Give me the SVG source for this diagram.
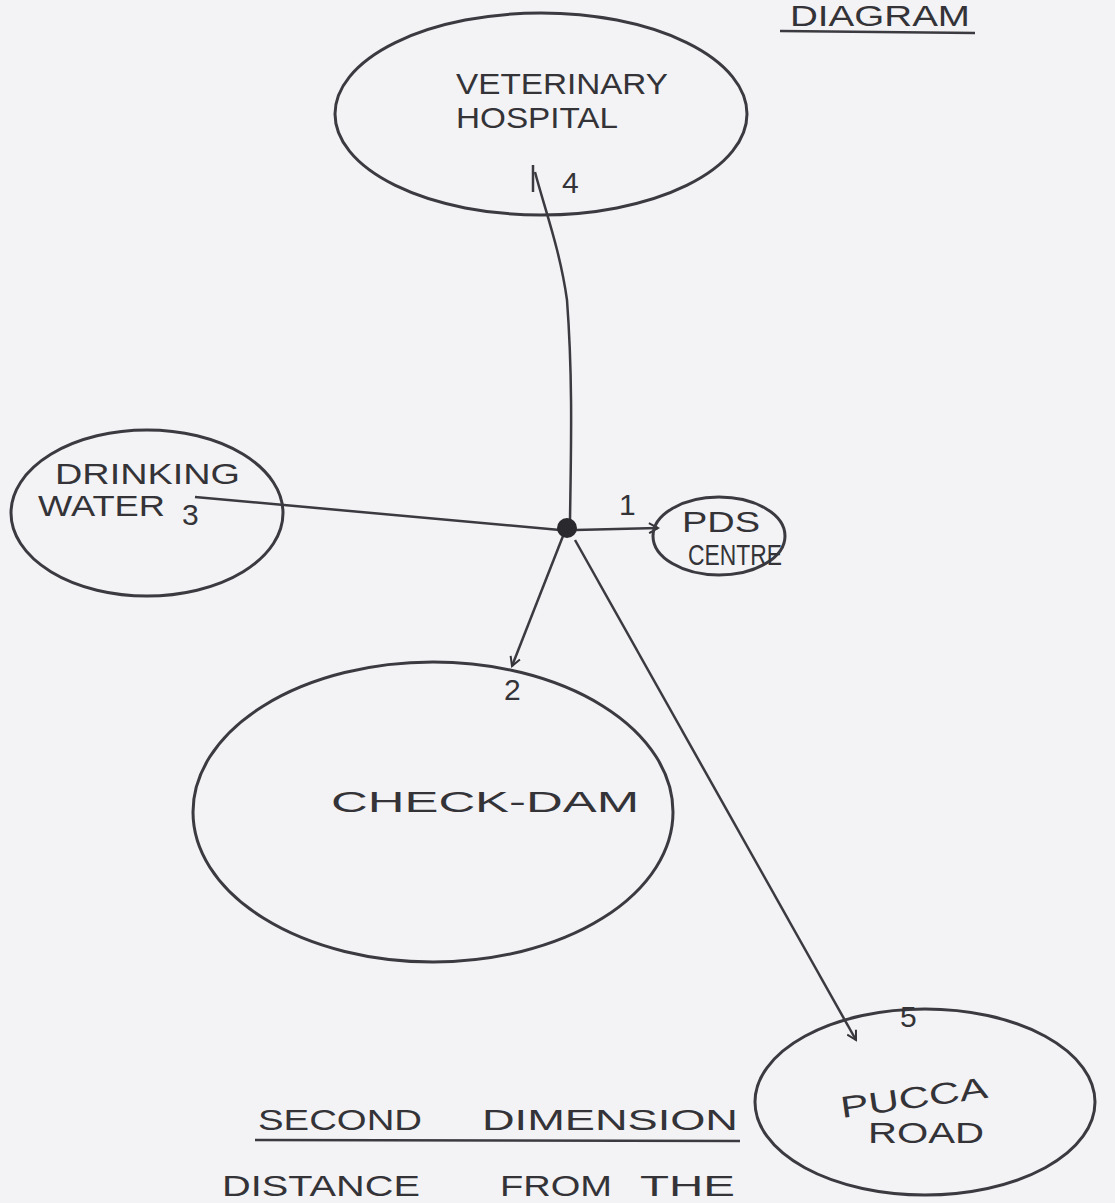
<svg xmlns="http://www.w3.org/2000/svg" width="1115" height="1203" viewBox="0 0 1115 1203">
<defs>
<marker id="arr" viewBox="0 0 12 12" refX="10" refY="6" markerWidth="12" markerHeight="12" markerUnits="userSpaceOnUse" orient="auto">
<path d="M1,1 L10,6 L1,11" fill="none" stroke="#333338" stroke-width="2"/>
</marker>
<style>
.shape{fill:none;stroke:#3a3a40;stroke-width:3}
.edge{fill:none;stroke:#3a3a40;stroke-width:2.5}
.t{font-family:"Liberation Sans",Arial,sans-serif;fill:#333338;font-size:30px}
</style>
</defs>
<rect width="1115" height="1203" fill="#f3f2f4"/>
<g id="title">
<text class="t" x="790" y="26" font-size="18" textLength="180" lengthAdjust="spacingAndGlyphs">DIAGRAM</text>
<line class="edge" x1="780" y1="31" x2="975" y2="33"/>
</g>
<g id="connectors">
<path class="edge" d="M535,172 C545,210 560,250 567,300 C573,380 571,450 570,520"/>
<line class="edge" x1="533" y1="165" x2="533" y2="192"/>
<path class="edge" d="M195,497 L560,530"/>
<path class="edge" d="M575,530 L658,528" marker-end="url(#arr)"/>
<path class="edge" d="M563,536 L512,666" marker-end="url(#arr)"/>
<path class="edge" d="M575,540 L856,1040" marker-end="url(#arr)"/>
<circle cx="567" cy="528" r="10" fill="#2a2a2e"/>
</g>
<g id="veterinary-hospital">
<ellipse class="shape" cx="541" cy="114" rx="206" ry="101"/>
<text class="t" x="456" y="94" font-size="30" textLength="212" lengthAdjust="spacingAndGlyphs">VETERINARY</text>
<text class="t" x="456" y="128" font-size="28" textLength="162" lengthAdjust="spacingAndGlyphs">HOSPITAL</text>
<text class="t" x="562" y="193" font-size="30">4</text>
</g>
<g id="drinking-water">
<ellipse class="shape" cx="147" cy="513" rx="136" ry="83"/>
<text class="t" x="55" y="484" font-size="24" textLength="185" lengthAdjust="spacingAndGlyphs">DRINKING</text>
<text class="t" x="38" y="516" font-size="22" textLength="127" lengthAdjust="spacingAndGlyphs">WATER</text>
<text class="t" x="182" y="525" font-size="24">3</text>
</g>
<g id="pds-centre">
<ellipse class="shape" cx="719" cy="536" rx="66" ry="39"/>
<text class="t" x="619" y="515" font-size="24">1</text>
<text class="t" x="682" y="532" font-size="21" textLength="78" lengthAdjust="spacingAndGlyphs">PDS</text>
<text class="t" x="688" y="565" font-size="11" textLength="94" lengthAdjust="spacingAndGlyphs">CENTRE</text>
</g>
<g id="check-dam">
<ellipse class="shape" cx="433" cy="812" rx="240" ry="150"/>
<text class="t" x="504" y="700" font-size="24">2</text>
<text class="t" x="331" y="812" font-size="34" textLength="308" lengthAdjust="spacingAndGlyphs">CHECK-DAM</text>
</g>
<g id="pucca-road">
<ellipse class="shape" cx="925" cy="1102" rx="170" ry="93"/>
<text class="t" x="900" y="1027" font-size="24">5</text>
<text class="t" x="840" y="1108" font-size="30" textLength="148" lengthAdjust="spacingAndGlyphs" transform="rotate(-8 913 1098)">PUCCA</text>
<text class="t" x="868" y="1143" font-size="28" textLength="116" lengthAdjust="spacingAndGlyphs">ROAD</text>
</g>
<g id="caption">
<text class="t" x="258" y="1130" font-size="27" textLength="164" lengthAdjust="spacingAndGlyphs">SECOND</text>
<text class="t" x="482" y="1130" font-size="27" textLength="256" lengthAdjust="spacingAndGlyphs">DIMENSION</text>
<line class="edge" x1="255" y1="1140" x2="740" y2="1141"/>
<text class="t" x="222" y="1196" font-size="32" textLength="198" lengthAdjust="spacingAndGlyphs">DISTANCE</text>
<text class="t" x="500" y="1196" font-size="32" textLength="112" lengthAdjust="spacingAndGlyphs">FROM</text>
<text class="t" x="640" y="1196" font-size="32" textLength="95" lengthAdjust="spacingAndGlyphs">THE</text>
</g>
</svg>
